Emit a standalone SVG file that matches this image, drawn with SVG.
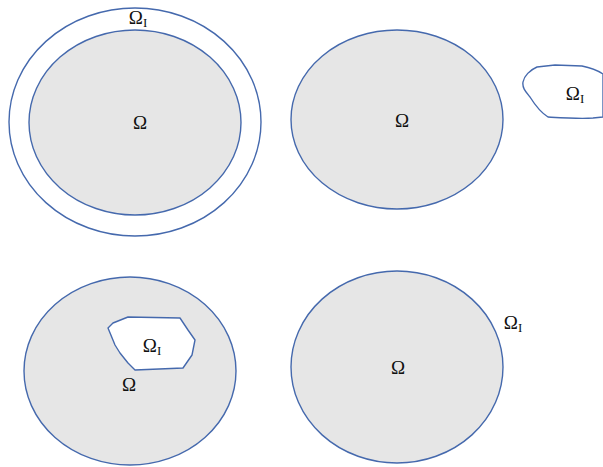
<svg xmlns="http://www.w3.org/2000/svg" width="603" height="467" viewBox="0 0 603 467">
<style>
.dom{fill:#e6e6e6;stroke:#4569ad;stroke-width:1.4}
.ring{fill:none;stroke:#4569ad;stroke-width:1.4}
.hole{fill:#ffffff;stroke:#4569ad;stroke-width:1.4;stroke-linejoin:round}
text{font-family:"Liberation Serif","DejaVu Serif",serif;font-size:19px;fill:#111;text-anchor:middle}
.sub{font-size:13px}
</style>
<rect width="603" height="467" fill="#ffffff"/>
<g id="tl">
<ellipse class="ring" cx="135" cy="122" rx="126" ry="114"/>
<ellipse class="dom" cx="135" cy="122.5" rx="106" ry="92.5"/>
<text x="138" y="24">Ω<tspan class="sub" dy="3">I</tspan></text>
<text x="140" y="129">Ω</text>
</g>
<g id="tr">
<ellipse class="dom" cx="397" cy="119.5" rx="106" ry="89.5"/>
<text x="402" y="127">Ω</text>
<path class="hole" d="M523,82 C524,76 530,70 537,67 L555,65 L582,66 C592,68 600,72 603,74 L603,117 L593,118 C580,119 565,118 548,117 C540,112 535,105 530,97 C526,92 522,88 523,82 Z"/>
<text x="575" y="100">Ω<tspan class="sub" dy="3">I</tspan></text>
</g>
<g id="bl">
<ellipse class="dom" cx="130" cy="371" rx="106" ry="94"/>
<path class="hole" d="M108,328 L113,323 L128,317 L180,318 L188,330 L195,340 L192,355 L183,368 L135,370 L128,363 L120,353 L115,345 Z"/>
<text x="152" y="352">Ω<tspan class="sub" dy="3">I</tspan></text>
<text x="129" y="391">Ω</text>
</g>
<g id="br">
<ellipse class="dom" cx="397" cy="367" rx="106" ry="96"/>
<text x="398" y="374">Ω</text>
<text x="513" y="329">Ω<tspan class="sub" dy="3">I</tspan></text>
</g>
<g id="connectors"></g>
</svg>
